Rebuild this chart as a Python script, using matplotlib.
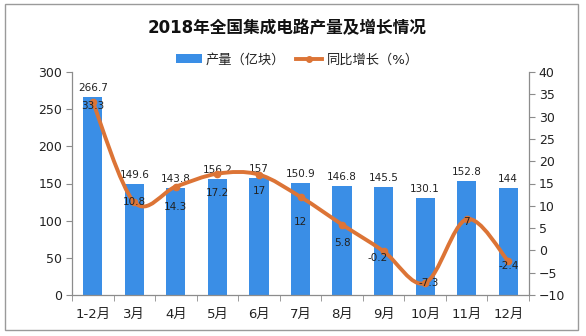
import matplotlib
matplotlib.use("Agg")
import matplotlib.pyplot as plt
from matplotlib.path import Path
from matplotlib.patches import PathPatch, Rectangle
from matplotlib.lines import Line2D
from matplotlib.patches import Patch
import numpy as np

plt.rcParams['font.family'] = ['DejaVu Sans', 'Noto Sans CJK SC']

categories = ["1-2月", "3月", "4月", "5月", "6月", "7月", "8月", "9月", "10月", "11月", "12月"]
output = [266.7, 149.6, 143.8, 156.2, 157, 150.9, 146.8, 145.5, 130.1, 152.8, 144]
growth = [33.3, 10.8, 14.3, 17.2, 17, 12, 5.8, -0.2, -7.3, 7, -2.4]
output_labels = ["266.7", "149.6", "143.8", "156.2", "157", "150.9", "146.8", "145.5", "130.1", "152.8", "144"]
growth_labels = ["33.3", "10.8", "14.3", "17.2", "17", "12", "5.8", "-0.2", "-7.3", "7", "-2.4"]
# label offsets in pixels (dx, dy downward) for growth labels
growth_label_offsets = [(0, 4), (0, 0), (0, 20), (0, 19), (0, 16), (0, 25), (0, 18), (-6, 7), (4, 0), (0, 3), (0, 5)]

bar_color = "#3a8ee6"
line_color = "#dc7436"
axis_color = "#8c8c8c"
text_color = "#222222"

fig = plt.figure(figsize=(5.86, 3.36), dpi=100)
fig.patches.append(Rectangle((5 / 586, 6 / 336), 573 / 586, 326 / 336, transform=fig.transFigure,
                             fill=False, edgecolor="#9a9a9a", linewidth=1.0))

ax = fig.add_axes([72 / 586, 41 / 336, 457 / 586, 223 / 336])
ax2 = ax.twinx()

x = np.arange(len(categories))
ax.bar(x, output, width=0.46, color=bar_color, zorder=2)
ax.set_xlim(-0.5, len(categories) - 0.5)
ax.set_ylim(0, 300)
ax.set_yticks(np.arange(0, 301, 50))
ax2.set_ylim(-10, 40)
ax2.set_yticks(np.arange(-10, 41, 5))

ax.set_xticks(x)
ax.set_xticklabels(categories)
ax.set_xticks(np.arange(-0.5, len(categories), 1.0), minor=True)
ax.tick_params(axis='x', which='major', length=0, pad=9, labelsize=9.5, labelcolor=text_color)
ax.tick_params(axis='x', which='minor', length=4, color=axis_color, direction='out')
ax.tick_params(axis='y', length=4, color=axis_color, labelsize=9, labelcolor=text_color, pad=3)
ax2.tick_params(axis='y', length=4, color=axis_color, labelsize=9, labelcolor=text_color, pad=3)

for a in (ax, ax2):
    a.spines['top'].set_visible(False)
    for s in ('left', 'right', 'bottom'):
        a.spines[s].set_color(axis_color)
        a.spines[s].set_linewidth(0.9)
ax.spines['right'].set_visible(False)
ax2.spines['left'].set_visible(False)
ax2.spines['bottom'].set_visible(False)

# bar labels
for xi, v, lab in zip(x, output, output_labels):
    ax.annotate(lab, (xi, v), xytext=(0, 3), textcoords='offset points',
                ha='center', va='bottom', fontsize=7.5, color=text_color, zorder=5)

# smoothed line (Catmull-Rom as cubic Bezier)
pts = np.column_stack([x, growth]).astype(float)
n = len(pts)
verts = [tuple(pts[0])]
codes = [Path.MOVETO]
for i in range(n - 1):
    p0 = pts[i - 1] if i > 0 else pts[i]
    p1 = pts[i]
    p2 = pts[i + 1]
    p3 = pts[i + 2] if i + 2 < n else pts[i + 1]
    c1 = p1 + (p2 - p0) / 6.0
    c2 = p2 - (p3 - p1) / 6.0
    verts += [tuple(c1), tuple(c2), tuple(p2)]
    codes += [Path.CURVE4, Path.CURVE4, Path.CURVE4]
ax2.add_patch(PathPatch(Path(verts, codes), fill=False, edgecolor=line_color, linewidth=2.8,
                        capstyle='round', joinstyle='round', zorder=3))
ax2.plot(x, growth, linestyle='none', marker='o', markersize=4.5, color=line_color, zorder=4)

for xi, v, lab, (dx, dy) in zip(x, growth, growth_labels, growth_label_offsets):
    ax2.annotate(lab, (xi, v), xytext=(dx, -dy), textcoords='offset pixels',
                 ha='center', va='center', fontsize=7.5, color=text_color, zorder=6)

fig.text(0.49, 0.915, "2018年全国集成电路产量及增长情况", ha='center', va='center',
         fontsize=12, fontweight='bold', color="#111111")

handles = [Patch(facecolor=bar_color, edgecolor='none'),
           Line2D([0], [0], color=line_color, linewidth=2.8, marker='o', markersize=4)]
fig.legend(handles, ["产量（亿块）", "同比增长（%）"], loc='center', bbox_to_anchor=(0.507, 0.822),
           ncol=2, frameon=False, fontsize=9.5, handlelength=2.0, handleheight=0.7,
           columnspacing=0.8, handletextpad=0.3, labelcolor=text_color)

fig.savefig("out.png", dpi=100)
